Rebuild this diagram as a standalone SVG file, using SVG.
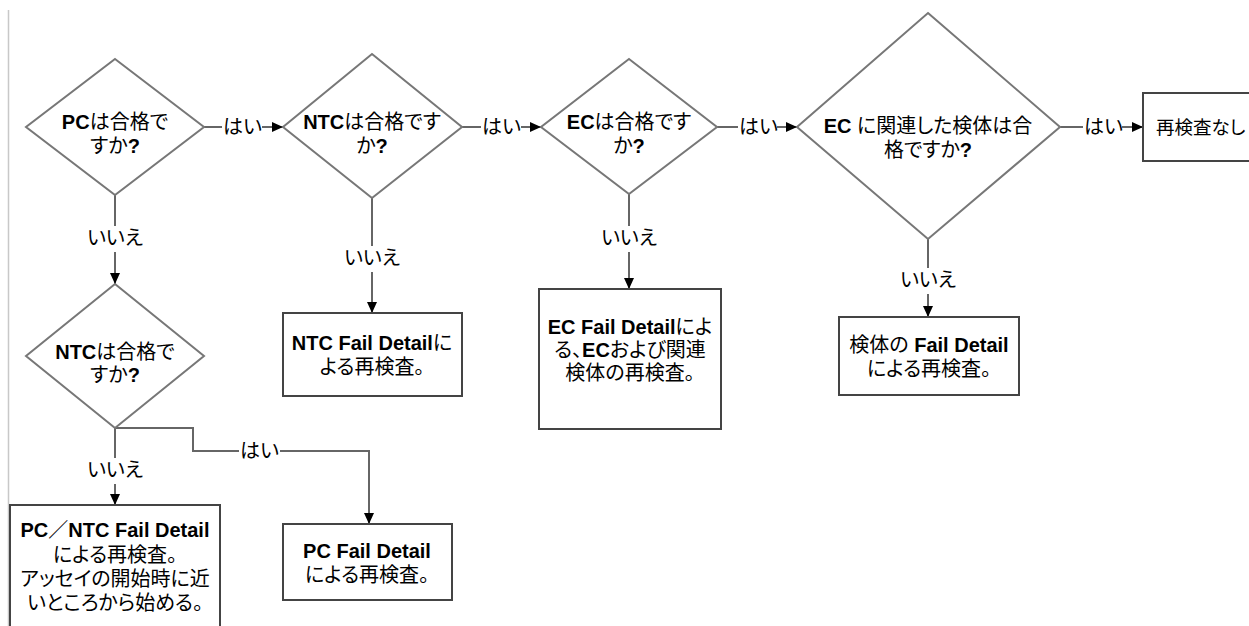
<svg xmlns="http://www.w3.org/2000/svg" width="1249" height="626" viewBox="0 0 1249 626">
<style>
.d{fill:#fff;stroke:#777;stroke-width:2}
.b{fill:#fff;stroke:#444;stroke-width:2}
.c{fill:none;stroke:#666;stroke-width:2}
.t{font-family:"Liberation Sans","Noto Sans CJK JP",sans-serif;font-size:20px;fill:#000;font-feature-settings:"palt"}
.m{text-anchor:middle}
.bo{font-weight:bold}
</style>
<defs>
<marker id="ah" markerUnits="userSpaceOnUse" markerWidth="12" markerHeight="10" refX="11" refY="5" orient="auto">
<path d="M0,0 L11,5 L0,10 z" fill="#000"/>
</marker>
</defs>
<rect width="1249" height="626" fill="#fff"/>
<line x1="8.5" y1="10" x2="8.5" y2="626" stroke="#c8c8c8" stroke-width="1.5"/>

<g id="connectors">
<line class="c" x1="204" y1="127" x2="222" y2="127"/>
<text class="t" x="223" y="134">はい</text>
<line class="c" x1="262" y1="127" x2="283" y2="127" marker-end="url(#ah)"/>

<line class="c" x1="462" y1="127" x2="481" y2="127"/>
<text class="t" x="482" y="134">はい</text>
<line class="c" x1="521" y1="127" x2="541" y2="127" marker-end="url(#ah)"/>

<line class="c" x1="717" y1="127" x2="738" y2="127"/>
<text class="t" x="739" y="134">はい</text>
<line class="c" x1="777" y1="127" x2="797" y2="127" marker-end="url(#ah)"/>

<line class="c" x1="1060" y1="127" x2="1083" y2="127"/>
<text class="t" x="1084" y="134">はい</text>
<line class="c" x1="1122" y1="127" x2="1143" y2="127" marker-end="url(#ah)"/>

<line class="c" x1="115" y1="195" x2="115" y2="226"/>
<text class="t m" x="115" y="245">いいえ</text>
<line class="c" x1="115" y1="252" x2="115" y2="284" marker-end="url(#ah)"/>

<line class="c" x1="372" y1="198" x2="372" y2="246"/>
<text class="t m" x="372" y="265">いいえ</text>
<line class="c" x1="372" y1="272" x2="372" y2="313" marker-end="url(#ah)"/>

<line class="c" x1="629" y1="194" x2="629" y2="226"/>
<text class="t m" x="629" y="245">いいえ</text>
<line class="c" x1="629" y1="252" x2="629" y2="289" marker-end="url(#ah)"/>

<line class="c" x1="928" y1="239" x2="928" y2="268"/>
<text class="t m" x="928" y="287">いいえ</text>
<line class="c" x1="928" y1="294" x2="928" y2="317" marker-end="url(#ah)"/>

<line class="c" x1="115" y1="428" x2="115" y2="458"/>
<text class="t m" x="115" y="477">いいえ</text>
<line class="c" x1="115" y1="484" x2="115" y2="505" marker-end="url(#ah)"/>

<polyline class="c" points="115,428 193,428 193,451 239,451"/>
<text class="t" x="240" y="458">はい</text>
<polyline class="c" points="280,451 369,451 369,524" marker-end="url(#ah)"/>
</g>

<g id="pc-pass">
<polygon class="d" points="115,59 204,127 115,195 26,127"/>
<text class="t m" x="115" y="129"><tspan class="bo">PC</tspan>は合格で</text>
<text class="t m" x="115" y="153">すか<tspan class="bo">?</tspan></text>
</g>

<g id="ntc-pass">
<polygon class="d" points="372,54 462,127 372,198 283,127"/>
<text class="t m" x="372" y="129"><tspan class="bo">NTC</tspan>は合格です</text>
<text class="t m" x="372" y="153">か<tspan class="bo">?</tspan></text>
</g>

<g id="ec-pass">
<polygon class="d" points="629,59 717,127 629,194 541,127"/>
<text class="t m" x="629" y="129"><tspan class="bo">EC</tspan>は合格です</text>
<text class="t m" x="629" y="153">か<tspan class="bo">?</tspan></text>
</g>

<g id="sample-pass">
<polygon class="d" points="928,13 1060,127 928,239 797,127"/>
<text class="t m" x="928" y="133"><tspan class="bo">EC </tspan>に関連した検体は合</text>
<text class="t m" x="928" y="157">格ですか<tspan class="bo">?</tspan></text>
</g>

<g id="no-retest">
<rect class="b" x="1143" y="93" width="130" height="68"/>
<text class="t" x="1156" y="134" style="font-size:18.5px">再検査なし</text>
</g>

<g id="ntc-pass-2">
<polygon class="d" points="115,284 204,356 115,428 26,356"/>
<text class="t m" x="115" y="359"><tspan class="bo">NTC</tspan>は合格で</text>
<text class="t m" x="115" y="382">すか<tspan class="bo">?</tspan></text>
</g>

<g id="ntc-fail">
<rect class="b" x="283" y="313" width="179" height="83"/>
<text class="t m" x="372" y="350"><tspan class="bo">NTC Fail Detail</tspan>に</text>
<text class="t m" x="372" y="374">よる再検査。</text>
</g>

<g id="ec-fail">
<rect class="b" x="539" y="289" width="182" height="140"/>
<text class="t m" x="630" y="334"><tspan class="bo">EC Fail Detail</tspan>によ</text>
<text class="t m" x="630" y="357">る、<tspan class="bo">EC</tspan>および関連</text>
<text class="t m" x="630" y="380">検体の再検査。</text>
</g>

<g id="sample-fail">
<rect class="b" x="839" y="317" width="180" height="78"/>
<text class="t m" x="929" y="352">検体の <tspan class="bo">Fail Detail</tspan></text>
<text class="t m" x="929" y="376">による再検査。</text>
</g>

<g id="pc-ntc-fail">
<rect class="b" x="10" y="505" width="210" height="140"/>
<text class="t m" x="115" y="537"><tspan class="bo">PC</tspan>／<tspan class="bo">NTC Fail Detail</tspan></text>
<text class="t m" x="115" y="562">による再検査。</text>
<text class="t m" x="115" y="586">アッセイの開始時に近</text>
<text class="t m" x="115" y="610">いところから始める。</text>
</g>

<g id="pc-fail">
<rect class="b" x="283" y="524" width="169" height="76"/>
<text class="t m" x="367" y="558"><tspan class="bo">PC Fail Detail</tspan></text>
<text class="t m" x="367" y="582">による再検査。</text>
</g>
</svg>
